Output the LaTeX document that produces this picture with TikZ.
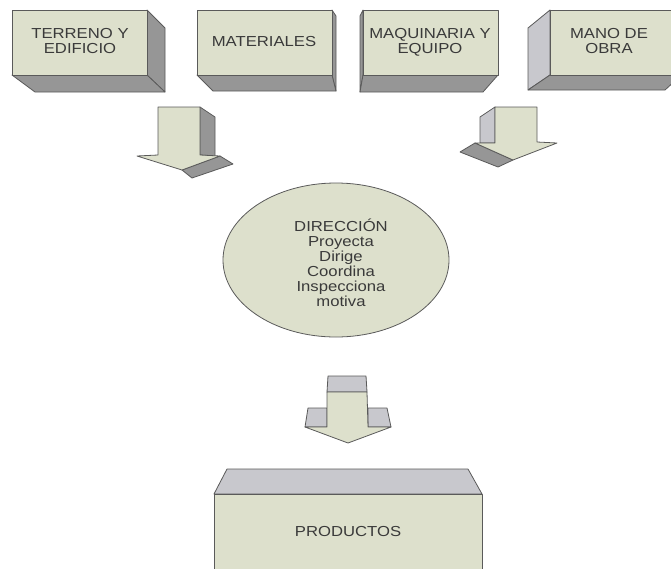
\documentclass[tikz,border=0pt]{standalone}
\usepackage{fontspec}
\setmainfont{Liberation Sans}
\usepackage{graphicx}
\usepackage{tikz}
\usetikzlibrary{shapes.geometric}
\usepackage{xcolor}
\definecolor{facegreen}{RGB}{221,224,204}
\definecolor{sidedark}{RGB}{150,150,150}
\definecolor{sidelight}{RGB}{200,200,205}
\definecolor{edgegray}{RGB}{90,90,90}
\definecolor{textgray}{RGB}{58,58,58}
\def\thickness{0.8pt}
\def\wide#1{\scalebox{1.15}[1]{\begin{tabular}{@{}c@{}}#1\end{tabular}}}
\tikzstyle{front}=[fill=facegreen, draw=edgegray, line width=\thickness, line join=round]
\tikzstyle{darkside}=[fill=sidedark, draw=edgegray, line width=\thickness, line join=round]
\tikzstyle{lightside}=[fill=sidelight, draw=edgegray, line width=\thickness, line join=round]
\tikzstyle{boxtext}=[text=textgray, inner sep=0pt, font=\fontsize{14.5}{13.5}\selectfont]
\tikzstyle{elltext}=[text=textgray, inner sep=0pt, font=\fontsize{14.5}{15}\selectfont]

\begin{document}
\begin{tikzpicture}[x=1pt, y=-1pt]
\useasboundingbox (0,0) rectangle (671,568);
% top boxes
\draw [darkside] (147,10) -- (165,28) -- (165,92) -- (147,75) -- cycle;
\draw [darkside] (12,75) -- (147,75) -- (165,92) -- (35,92) -- cycle;
\draw [front] (12,10) rectangle (147,75);
\node [boxtext] (terreno) at (80,43) {\wide{TERRENO Y\\EDIFICIO}};
\draw [darkside] (332,10) -- (336,16) -- (336,91) -- (332,75) -- cycle;
\draw [darkside] (197,75) -- (332,75) -- (336,91) -- (213,91) -- cycle;
\draw [front] (197,10) rectangle (332,75);
\node [boxtext] (materiales) at (264,43) {\wide{MATERIALES}};
\draw [darkside] (363,10) -- (360,16) -- (360,92) -- (363,75) -- cycle;
\draw [darkside] (363,75) -- (498,75) -- (483,92) -- (360,92) -- cycle;
\draw [front] (363,10) rectangle (498,75);
\node [boxtext] (maquinaria) at (430,43) {\wide{MAQUINARIA Y\\EQUIPO}};
\draw [lightside] (550,10) -- (528,28) -- (528,90) -- (550,75) -- cycle;
\draw [darkside] (550,75) -- (676,75) -- (676,80) -- (665,90) -- (528,90) -- cycle;
\draw [front] (550,10) rectangle (676,75);
\node [boxtext] (manoobra) at (609,43) {\wide{MANO DE\\OBRA}};
% arrows into the ellipse
\draw [darkside] (200,107) -- (215,117) -- (215,156) -- (200,155) -- cycle;
\draw [darkside] (182,170) -- (220,156) -- (233,164) -- (192,178) -- cycle;
\draw [front] (158,107) -- (200,107) -- (200,155) -- (220,156) -- (182,170) -- (137,156) -- (158,155) -- cycle;
\draw [lightside] (495,107) -- (480,117) -- (480,143) -- (495,143) -- cycle;
\draw [darkside] (475,143) -- (513,160) -- (498,167) -- (460,152) -- cycle;
\draw [front] (495,107) -- (537,107) -- (537,142) -- (557,143) -- (513,160) -- (475,143) -- (495,143) -- cycle;
% direccion
\node [front, ellipse, minimum width=226pt, minimum height=154pt] (direccion) at (336,260) {};
\node [elltext] (direcciontext) at (341,265) {\wide{DIRECCI\'ON\\Proyecta\\Dirige\\Coordina\\Inspecciona\\motiva}};
% arrow into productos
\draw [lightside] (328,376) -- (366,376) -- (367,392) -- (327,392) -- cycle;
\draw [lightside] (308,408) -- (327,408) -- (327,427) -- (305,427) -- cycle;
\draw [lightside] (368,408) -- (387,408) -- (391,427) -- (368,427) -- cycle;
\draw [front] (327,392) -- (367,392) -- (368,427) -- (391,427) -- (348,443) -- (305,427) -- (327,427) -- cycle;
% productos
\draw [lightside] (227,469) -- (468,469) -- (482,494) -- (214,494) -- cycle;
\draw [front] (214,494) rectangle (482,575);
\node [boxtext] (productos) at (348,533) {\wide{PRODUCTOS}};
\end{tikzpicture}
\end{document}
